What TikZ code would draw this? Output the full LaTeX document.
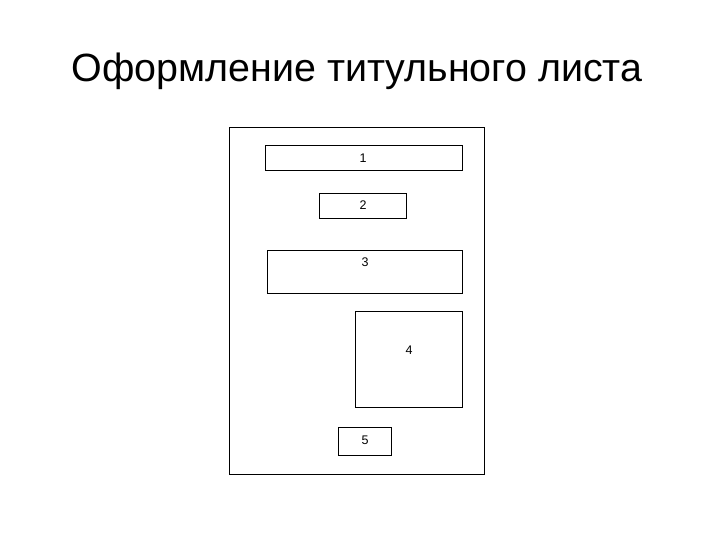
\documentclass[tikz,border=0pt]{standalone}
\usepackage{fontspec}
\setmainfont{Liberation Sans}
\usetikzlibrary{positioning}
\tikzset{
  field/.style={draw,line width=1pt,inner sep=0pt,minimum width=#1},
  num/.style={font=\fontsize{12.5}{12.5}\selectfont,inner sep=0pt}
}

\begin{document}
\begin{tikzpicture}[x=1pt,y=-1pt]
  \useasboundingbox (0,0) rectangle (720,540);

  \node (title) [anchor=base,font=\fontsize{39.4}{39.4}\selectfont,inner sep=0pt] at (357,81.5) {Оформление титульного листа};

  \node (page) [field=255pt,minimum height=347pt] at (357,301) {};

  \node (f1) [field=197pt,minimum height=25pt] at (364,158.5) {};
  \node (f1num) [num] at (363,158.5) {1};

  \node (f2) [field=87pt,minimum height=25pt] at (363,206) {};
  \node (f2num) [num] at (363,205.5) {2};

  \node (f3) [field=195pt,minimum height=43.5pt] at (365,272.2) {};
  \node (f3num) [num] at (365,262) {3};

  \node (f4) [field=107pt,minimum height=96pt] at (409,359) {};
  \node (f4num) [num] at (409,350) {4};

  \node (f5) [field=53pt,minimum height=28pt] at (365,441.5) {};
  \node (f5num) [num] at (365,440.5) {5};

\end{tikzpicture}
\end{document}
